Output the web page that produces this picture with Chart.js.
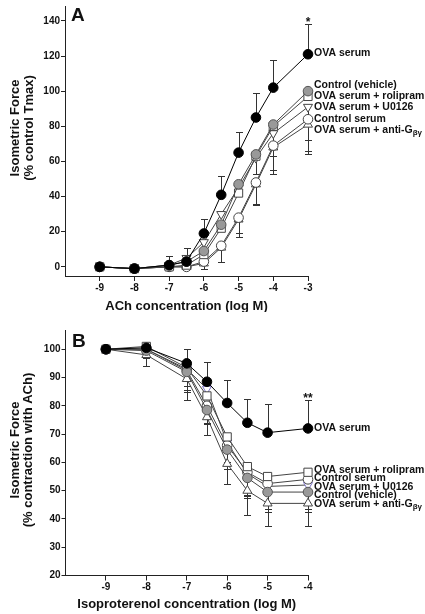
<!DOCTYPE html>
<html lang="en">
<head>
<meta charset="UTF-8">
<title>Isometric force</title>
<script src="https://cdn.jsdelivr.net/npm/chart.js"></script>
<style>
  body { margin: 0; background: #fff; }
  .panel { position: absolute; left: 0; width: 425px; }
  #panelA { top: 0; height: 312px; }
  #panelB { top: 312px; height: 302px; }
</style>
</head>
<body>
<div class="panel" id="panelA"><canvas id="chartA"></canvas></div>
<div class="panel" id="panelB"><canvas id="chartB"></canvas></div>
<script>
// Panel A - ACh concentration response
const doseA     = [-9, -8, -7, -6.5, -6, -5.5, -5, -4.5, -4, -3];
const ovaA      = [0, -1, 1, 3, 19, 41, 65, 85, 102, 121];
const vehicleA  = [0, -1, 1, 3, 9, 24, 47, 64, 81, 100];
const roliA     = [0, -1, 0, 1, 7, 22, 42, 63, 80, 97];
const u0126A    = [0, -1, 1, 5, 14, 30, 45, 62, 76, 91];
const serumA    = [0, -1, 0, 0, 3, 12, 28, 48, 69, 84];
const gbgA      = [0, -1, 0, 0, 2, 11, 27, 47, 68, 81];
// error bars: positive drawn up, negative drawn down
const ovaErrA     = [0, 0, 0, 0, 8, 10.5, 12, 14, 16, 17];
const vehicleErrA = [0, 0, 5, 8, 0, 0, 0, 0, 0, 0];
const roliErrA    = [0, 0, 0, 0, 0, 0, 0, -10, 0, 0];
const u0126ErrA   = [0, 0, 0, 0, 0, 0, 0, 0, -13, -19];
const serumErrA   = [0, 0, 0, 0, -4, -9, -9, -12, -14, -18];
const gbgErrA     = [0, 0, 0, 0, -3, -8, -10, -12, -15, -17];
const namesA  = ['OVA serum', 'Control (vehicle)', 'OVA serum + rolipram', 'OVA serum + U0126', 'Control serum', 'OVA serum + anti-G_βγ'];
const labelYA = [121.5, 103.5, 97, 91, 84, 78];
const xTicksA = [-9, -8, -7, -6, -5, -4, -3];
const yTicksA = [0, 20, 40, 60, 80, 100, 120, 140];

// Panel B - isoproterenol relaxation
const doseB     = [-9, -8, -7, -6.5, -6, -5.5, -5, -4];
const ovaB      = [100, 100.5, 95, 88.5, 81, 74, 70.5, 72];
const vehicleB  = [100, 99.5, 92, 78.5, 64.5, 54.5, 49.5, 49.5];
const roliB     = [100, 101, 93.5, 83.5, 69, 58.5, 55, 56.5];
const u0126B    = [100, 100, 93, 86, 67, 56, 51.5, 52];
const serumB    = [100, 100, 92.5, 80, 66, 56.5, 52.5, 54];
const gbgB      = [100, 98, 89.5, 76, 59.5, 50, 45.5, 45.5];
const ovaErrB     = [0, 0, 5, 7, 8, 8.5, 10, 10];
const vehicleErrB = [0, -2.5, -6.5, -5, -7, -7, -7, -7];
const roliErrB    = [0, 0, 0, 0, 0, 0, 0, 0];
const u0126ErrB   = [0, 0, -6, 0, 0, -8, 0, 0];
const serumErrB   = [0, 0, -7.5, -6, -6, -8, -9, -10.5];
const gbgErrB     = [0, -4, -7.5, -6.5, -7, -8.5, -8, -8];
const namesB  = ['OVA serum', 'Control (vehicle)', 'OVA serum + rolipram', 'OVA serum + U0126', 'Control serum', 'OVA serum + anti-G_βγ'];
const labelYB = [72.2, 48.6, 57.4, 51.3, 54.5, 45.1];
const xTicksB = [-9, -8, -7, -6, -5, -4];
const yTicksB = [20, 30, 40, 50, 60, 70, 80, 90, 100];

const FONT = '"Liberation Sans", Arial, Helvetica, sans-serif';
Chart.defaults.font.family = FONT;
Chart.defaults.font.weight = 'bold';
Chart.defaults.color = '#111';

function pts(dose, vals) {
    return dose.map((x, i) => ({ x: x, y: vals[i] }));
}

const errorBars = {
    id: 'errorBars',
    beforeDatasetsDraw(chart) {
        const ctx = chart.ctx, xs = chart.scales.x, ys = chart.scales.y;
        ctx.save();
        ctx.strokeStyle = '#333';
        ctx.lineWidth = 1;
        chart.data.datasets.forEach(ds => {
            ds.data.forEach((p, i) => {
                const e = ds.errs[i];
                if (!e) return;
                const px = Math.round(xs.getPixelForValue(p.x)) + 0.5;
                const y0 = ys.getPixelForValue(p.y);
                const y1 = Math.round(ys.getPixelForValue(p.y + e)) + 0.5;
                ctx.beginPath();
                ctx.moveTo(px, y0);
                ctx.lineTo(px, y1);
                ctx.moveTo(px - 3.5, y1);
                ctx.lineTo(px + 3.5, y1);
                ctx.stroke();
            });
        });
        ctx.restore();
    }
};

function makeChart(id, d) {
    const looks = [
        { style: 'circle',   r: 4.8, rot: 0,   bg: '#000',    edge: '#000', line: '#000' },
        { style: 'circle',   r: 4.8, rot: 0,   bg: '#999',    edge: '#555', line: '#444' },
        { style: 'rect',     r: 5.8, rot: 0,   bg: '#fff',    edge: '#444', line: '#444' },
        { style: 'triangle', r: 5.2, rot: 180, bg: '#fff',    edge: d.u0126Edge, line: '#444' },
        { style: 'circle',   r: 4.8, rot: 0,   bg: '#fff',    edge: '#444', line: '#444' },
        { style: 'triangle', r: 5.2, rot: 0,   bg: '#fff',    edge: '#444', line: '#444' }
    ];
    const datasets = d.series.map((vals, k) => ({
        label: d.names[k],
        data: pts(d.dose, vals),
        errs: d.errs[k],
        showLine: true,
        clip: false,
        borderColor: looks[k].line,
        borderWidth: 1,
        pointStyle: looks[k].style,
        pointRotation: looks[k].rot,
        pointRadius: looks[k].r,
        pointBackgroundColor: looks[k].bg,
        pointBorderColor: looks[k].edge,
        pointBorderWidth: 1,
        order: d.order[k]
    }));

    const decor = {
        id: 'decor',
        afterDraw(chart) {
            const ctx = chart.ctx, xs = chart.scales.x, ys = chart.scales.y;
            const area = chart.chartArea;
            const cx = (area.left + area.right) / 2;
            ctx.save();
            ctx.fillStyle = '#111';
            // panel letter
            ctx.font = 'bold 19px ' + FONT;
            ctx.textAlign = 'left';
            ctx.textBaseline = 'alphabetic';
            ctx.fillText(d.letter, d.letterPos[0], d.letterPos[1]);
            // axis titles
            ctx.font = 'bold 13px ' + FONT;
            ctx.textAlign = 'center';
            ctx.textBaseline = 'middle';
            ctx.fillText(d.xTitle, cx, d.xTitleY);
            d.yTitle.forEach((t, i) => {
                ctx.save();
                ctx.translate(d.yTitleX[i], d.yTitleCY);
                ctx.rotate(-Math.PI / 2);
                ctx.fillText(t, 0, 0);
                ctx.restore();
            });
            // end labels
            ctx.textAlign = 'left';
            d.names.forEach((n, k) => {
                const y = ys.getPixelForValue(d.labelY[k]);
                const parts = n.split('_');
                ctx.font = 'bold 10.5px ' + FONT;
                ctx.fillText(parts[0], area.right + 6, y);
                if (parts[1]) {
                    const w = ctx.measureText(parts[0]).width;
                    ctx.font = 'bold 8px ' + FONT;
                    ctx.fillText(parts[1], area.right + 6 + w, y + 2.5);
                }
            });
            // significance mark over OVA serum
            const last = d.dose.length - 1;
            const top = ys.getPixelForValue(d.series[0][last] + d.errs[0][last]);
            ctx.font = 'bold 12px ' + FONT;
            ctx.textAlign = 'center';
            ctx.textBaseline = 'alphabetic';
            ctx.fillText(d.star, xs.getPixelForValue(d.dose[last]), top + 2);
            ctx.restore();
        }
    };

    return new Chart(document.getElementById(id), {
        type: 'scatter',
        data: { datasets: datasets },
        options: {
            responsive: true,
            maintainAspectRatio: false,
            animation: false,
            layout: { padding: { top: d.top, right: 117, left: 0, bottom: 0 } },
            plugins: { legend: { display: false }, tooltip: { enabled: false } },
            scales: {
                x: {
                    type: 'linear',
                    min: d.xMin, max: d.xMax,
                    afterBuildTicks: s => { s.ticks = d.xTicks.map(v => ({ value: v })); },
                    afterFit: s => { s.height = d.xHeight; s.paddingLeft = 0; s.paddingRight = 0; },
                    grid: { drawOnChartArea: false, tickLength: 5, tickColor: '#222' },
                    border: { color: '#222', width: 1 },
                    ticks: { padding: 1, font: { size: 10, weight: 'bold' }, color: '#111', maxRotation: 0 }
                },
                y: {
                    min: d.yMin, max: d.yMax,
                    afterBuildTicks: s => { s.ticks = d.yTicks.map(v => ({ value: v })); },
                    afterFit: s => { s.width = d.yWidth; s.paddingTop = 0; s.paddingBottom = 0; },
                    grid: { drawOnChartArea: false, tickLength: 4, tickColor: '#222' },
                    border: { color: '#222', width: 1 },
                    ticks: { padding: 1, font: { size: 10, weight: 'bold' }, color: '#111' }
                }
            }
        },
        plugins: [errorBars, decor]
    });
}

makeChart('chartA', {
    dose: doseA,
    series: [ovaA, vehicleA, roliA, u0126A, serumA, gbgA],
    errs: [ovaErrA, vehicleErrA, roliErrA, u0126ErrA, serumErrA, gbgErrA],
    names: namesA, labelY: labelYA,
    order: [0, 1, 2, 3, 4, 5],
    u0126Edge: '#444',
    xMin: -10, xMax: -3, yMin: -5.2, yMax: 148,
    xTicks: xTicksA, yTicks: yTicksA,
    top: 4, xHeight: 36, yWidth: 65,
    letter: 'A', letterPos: [71, 21],
    xTitle: 'ACh concentration (log M)', xTitleY: 306,
    yTitle: ['Isometric Force', '(% control Tmax)'], yTitleX: [15, 29], yTitleCY: 128,
    star: '*'
});

makeChart('chartB', {
    dose: doseB,
    series: [ovaB, vehicleB, roliB, u0126B, serumB, gbgB],
    errs: [ovaErrB, vehicleErrB, roliErrB, u0126ErrB, serumErrB, gbgErrB],
    names: namesB, labelY: labelYB,
    order: [0, 1, 2, 4, 3, 5],
    u0126Edge: '#7b72c8',
    xMin: -10, xMax: -4, yMin: 20, yMax: 106.8,
    xTicks: xTicksB, yTicks: yTicksB,
    top: 18, xHeight: 38.5, yWidth: 65.5,
    letter: 'B', letterPos: [72, 35],
    xTitle: 'Isoproterenol concentration (log M)', xTitleY: 292,
    yTitle: ['Isometric Force', '(% contraction with ACh)'], yTitleX: [15, 28.5], yTitleCY: 138,
    star: '**'
});
</script>
</body>
</html>
